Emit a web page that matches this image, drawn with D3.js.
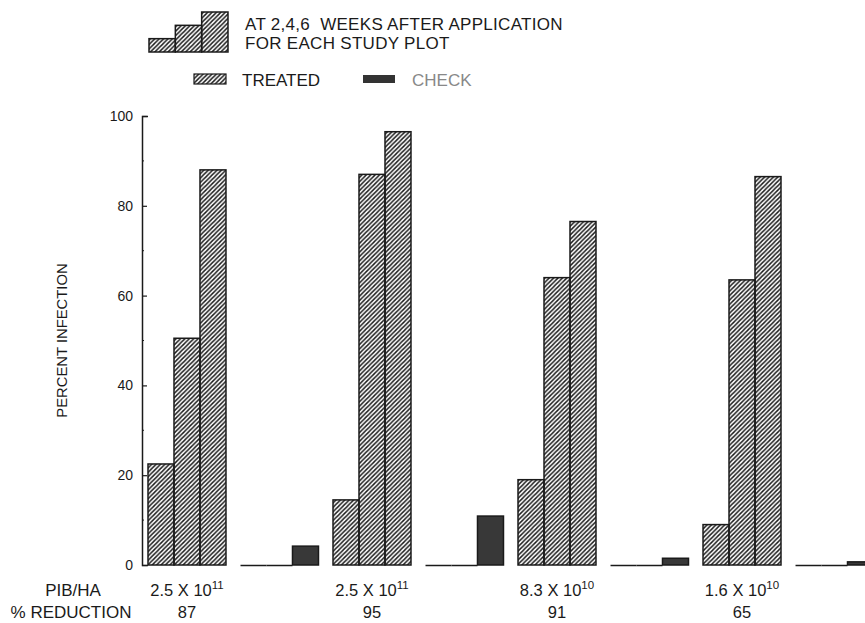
<!DOCTYPE html>
<html>
<head>
<meta charset="utf-8">
<script src="https://cdn.jsdelivr.net/npm/d3@7"></script>
<style>
  body { margin: 0; background: #fff; }
  text { font-family: "Liberation Sans", Arial, sans-serif; fill: #1a1a1a; white-space: pre; }
</style>
</head>
<body>
<svg id="chart" width="865" height="623"></svg>
<script>
// plots in drawing order: treated / check pairs
const plots = ['T1', 'C1', 'T2', 'C2', 'T3', 'C3', 'T4', 'C4'];
const weeks = ['2', '4', '6'];
const treatedValues = [[22.5, 50.5, 88], [14.5, 87, 96.5], [19, 64, 76.5], [9, 63.5, 86.5]];
const checkValues = [[0, 0, 4.2], [0, 0, 10.9], [0, 0, 1.5], [0, 0, 0.7]];
const pibMantissa = ['2.5', '2.5', '8.3', '1.6'];
const pibExponent = ['11', '11', '10', '10'];
const reductionLabels = ['87', '95', '91', '65'];
const yTicks = [0, 20, 40, 60, 80, 100];
const yMinorTicks = [10, 30, 50, 70, 90];
const legendSteps = [1, 2, 3];

const svg = d3.select('#chart');
const ink = '#1a1a1a';

// hatch pattern
const defs = svg.append('defs');
defs.append('pattern')
  .attr('id', 'hatch')
  .attr('patternUnits', 'userSpaceOnUse')
  .attr('width', 4.4)
  .attr('height', 4.4)
  .append('path')
  .attr('d', 'M-1,1 l2,-2 M0,4.4 l4.4,-4.4 M3.4,5.4 l2,-2')
  .attr('stroke', ink)
  .attr('stroke-width', 1.45);

const y = d3.scaleLinear().domain([0, 100]).range([565, 116]);

const x0 = d3.scaleBand()
  .domain(plots)
  .range([148, 873.5])
  .paddingInner(0.157)
  .paddingOuter(0);

const x1 = d3.scaleBand()
  .domain(weeks)
  .range([0, x0.bandwidth()]);

// zip data into one flat list
const bars = [];
plots.forEach((p, i) => {
  const g = Math.floor(i / 2);
  const isCheck = i % 2 === 1;
  const vals = isCheck ? checkValues[g] : treatedValues[g];
  weeks.forEach((w, j) => bars.push({ plot: p, week: w, value: vals[j], check: isCheck }));
});

const barG = svg.append('g');

barG.selectAll('rect')
  .data(bars.filter(d => d.value > 0))
  .enter().append('rect')
  .attr('x', d => x0(d.plot) + x1(d.week))
  .attr('y', d => y(d.value))
  .attr('width', x1.bandwidth())
  .attr('height', d => y(0) - y(d.value))
  .attr('fill', d => d.check ? '#383838' : 'url(#hatch)')
  .attr('stroke', ink)
  .attr('stroke-width', 1.5);

// zero values drawn as a base line
barG.selectAll('line')
  .data(bars.filter(d => d.value === 0))
  .enter().append('line')
  .attr('x1', d => x0(d.plot) + x1(d.week))
  .attr('x2', d => x0(d.plot) + x1(d.week) + x1.bandwidth())
  .attr('y1', y(0) + 0.5)
  .attr('y2', y(0) + 0.5)
  .attr('stroke', ink)
  .attr('stroke-width', 1.5);

// y axis
const yAxis = d3.axisLeft(y)
  .tickValues(yTicks)
  .tickSizeInner(-5)
  .tickSizeOuter(-6)
  .tickPadding(9)
  .tickFormat(d3.format('d'));

const axisG = svg.append('g')
  .attr('transform', 'translate(142,0)')
  .call(yAxis);
axisG.select('.domain').attr('stroke', ink).attr('stroke-width', 1.5);
axisG.selectAll('.tick line').attr('stroke', ink).attr('stroke-width', 1.2);
axisG.selectAll('.tick text')
  .attr('fill', '#1a1a1a')
  .style('font-family', '"Liberation Sans", Arial, sans-serif')
  .style('font-size', '14px');

axisG.selectAll('.minor')
  .data(yMinorTicks)
  .enter().append('line')
  .attr('class', 'minor')
  .attr('x1', 0)
  .attr('x2', 2)
  .attr('y1', d => y(d))
  .attr('y2', d => y(d))
  .attr('stroke', ink)
  .attr('stroke-width', 1);

svg.append('text')
  .attr('transform', 'translate(67,' + ((y(0) + y(100)) / 2) + ') rotate(-90)')
  .attr('text-anchor', 'middle')
  .style('font-size', '14.8px')
  .text('PERCENT INFECTION');

// bottom labels
const treatedPlots = plots.filter((p, i) => i % 2 === 0);
const centerOf = p => x0(p) + x0.bandwidth() / 2;

const pib = svg.append('g').selectAll('text')
  .data(treatedPlots)
  .enter().append('text')
  .attr('x', centerOf)
  .attr('y', 596)
  .attr('text-anchor', 'middle')
  .style('font-size', '16.5px');
pib.append('tspan').text((d, i) => pibMantissa[i] + ' X 10');
pib.append('tspan')
  .attr('dy', -7)
  .style('font-size', '11.5px')
  .text((d, i) => pibExponent[i]);

svg.append('g').selectAll('text')
  .data(treatedPlots)
  .enter().append('text')
  .attr('x', centerOf)
  .attr('y', 618)
  .attr('text-anchor', 'middle')
  .style('font-size', '16.5px')
  .text((d, i) => reductionLabels[i]);

svg.append('text')
  .attr('x', 73).attr('y', 596)
  .attr('text-anchor', 'middle')
  .style('font-size', '17px')
  .text('PIB/HA');

svg.append('text')
  .attr('x', 71).attr('y', 618)
  .attr('text-anchor', 'middle')
  .style('font-size', '17px')
  .text('% REDUCTION');

// legend
const legX = d3.scaleBand().domain(legendSteps).range([149, 228]);
const legY = d3.scaleLinear().domain([0, 3]).range([52, 12]);

svg.append('g').selectAll('rect')
  .data(legendSteps)
  .enter().append('rect')
  .attr('x', d => legX(d))
  .attr('y', d => legY(d))
  .attr('width', legX.bandwidth())
  .attr('height', d => legY(0) - legY(d))
  .attr('fill', 'url(#hatch)')
  .attr('stroke', ink)
  .attr('stroke-width', 1.5);

svg.append('text').attr('x', 245).attr('y', 30).style('font-size', '17px')
  .style('letter-spacing', '0.3px')
  .text('AT 2,4,6  WEEKS AFTER APPLICATION');
svg.append('text').attr('x', 245).attr('y', 49).style('font-size', '17px')
  .style('letter-spacing', '0.3px')
  .text('FOR EACH STUDY PLOT');

svg.append('rect')
  .attr('x', 194).attr('y', 74).attr('width', 32).attr('height', 10)
  .attr('fill', 'url(#hatch)')
  .attr('stroke', ink).attr('stroke-width', 1.2);
svg.append('text').attr('x', 242).attr('y', 86).style('font-size', '17px')
  .text('TREATED');

svg.append('rect')
  .attr('x', 363).attr('y', 75).attr('width', 32).attr('height', 8)
  .attr('fill', '#333');
svg.append('text').attr('x', 412).attr('y', 86).style('font-size', '17px')
  .style('fill', '#888')
  .text('CHECK');
</script>
</body>
</html>
